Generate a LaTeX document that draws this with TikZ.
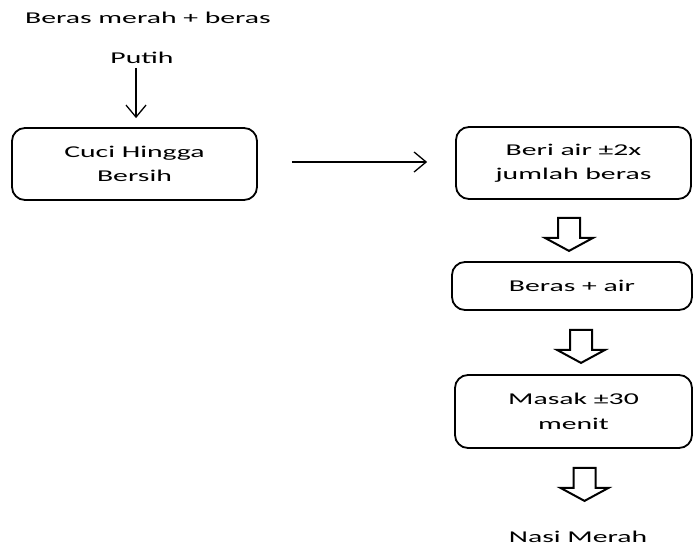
\documentclass[tikz,border=0pt]{standalone}
\usepackage{fontspec}
\setmainfont{Carlito}[FakeStretch=1.8]
\usetikzlibrary{positioning,calc,arrows.meta}

\tikzset{
  stepbox/.style={draw, line width=1.8pt, rounded corners=13pt, align=center,
    inner sep=0pt},
  label text/.style={align=center, inner sep=0pt},
  thinarrow/.style={-{Straight Barb[length=12pt,width=20pt,line width=1.3pt]}, line width=1.3pt},
  hollowdown/.pic={
    \draw[line width=2pt, line join=miter, fill=white]
      (-11,0) -- (11,0) -- (11,20) -- (24,20) -- (0,33) -- (-24,20) -- (-11,20) -- cycle;
  }
}

\begin{document}
\begin{tikzpicture}[x=1pt, y=-1pt, font=\fontsize{16.5}{24.5}\selectfont]
\useasboundingbox (0,0) rectangle (693,546);

% Input
\node[label text] (bahan) at (148,18) {Beras merah + beras};
\node[label text] (putih) at (142,58) {Putih};

% Boxes
\node[stepbox, minimum width=245pt, minimum height=72pt] (cuci) at (134.5,164) {Cuci Hingga\\Bersih};
\node[stepbox, minimum width=235pt, minimum height=72pt] (beri) at (573.5,163) {Beri air \textpm2x\\jumlah beras};
\node[stepbox, minimum width=240pt, minimum height=48pt] (campur) at (572,286) {Beras + air};
\node[stepbox, minimum width=237pt, minimum height=73pt] (masak) at (573.5,411.5) {Masak \textpm30\\menit};

% Output
\node[label text] (nasi) at (578,537) {Nasi Merah};

% Thin arrows
\draw[thinarrow] ([xshift=-6pt,yshift=-4pt]putih.south) -- ([xshift=1.5pt,yshift=9pt]cuci.north);
\draw[thinarrow, shorten <=34pt, shorten >=28pt] ([yshift=2pt]cuci.east) -- ([yshift=2pt]cuci.east -| beri.west);

% Hollow arrows
\pic at ($(beri.south)+(-4.5,18)$) {hollowdown};
\pic at ($(campur.south)+(9,19)$) {hollowdown};
\pic at ($(masak.south)+(11,19)$) {hollowdown};

\end{tikzpicture}
\end{document}
